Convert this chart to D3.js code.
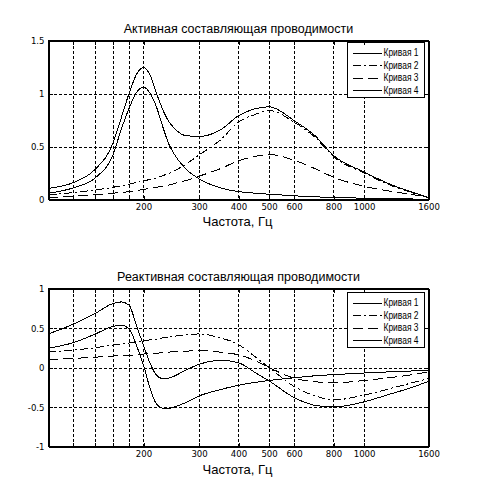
<!DOCTYPE html>
<html>
<head>
  <meta charset="utf-8">
  <title>Проводимость</title>
  <script src="https://d3js.org/d3.v7.min.js"></script>
  <style>
    body { margin: 0; background: #fff; }
    svg { display: block; }
    .grid line { stroke: #000; stroke-width: 1px; stroke-dasharray: 3,2; shape-rendering: crispEdges; }
    .frame { fill: none; stroke: #000; stroke-width: 1px; shape-rendering: crispEdges; }
    .axis path, .axis line { stroke: #000; shape-rendering: crispEdges; }
    .axis text { font-family: "Liberation Sans Narrow", "DejaVu Sans Condensed", "Arial Narrow", sans-serif; font-size: 9.5px; fill: #000; }
    .curve { fill: none; stroke: #000; stroke-width: 1px; shape-rendering: crispEdges; }
    .legend rect { fill: #fff; stroke: #000; shape-rendering: crispEdges; }
    .legend text { font-family: "Liberation Sans", Arial, sans-serif; font-size: 10px; }
    .title, .xlabel { font-family: "Liberation Sans", Arial, sans-serif; fill: #000; }
  </style>
</head>
<body>
  <script>
    // Frequencies (Hz), shared by all curves
    const freq = [100, 120, 140, 160, 170, 180, 190, 200, 210, 220, 230, 240, 250, 270, 300, 350, 400, 450, 500, 600, 700, 800, 1000, 1200, 1400, 1600];

    // Active component (upper plot)
    const active1 = [0.06, 0.11, 0.2, 0.42, 0.66, 0.86, 1.01, 1.06, 1.0, 0.87, 0.69, 0.53, 0.43, 0.3, 0.195, 0.11, 0.075, 0.06, 0.05, 0.035, 0.025, 0.02, 0.012, 0.008, 0.005, 0.003];
    const active2 = [0.047, 0.065, 0.09, 0.115, 0.13, 0.145, 0.16, 0.175, 0.19, 0.205, 0.225, 0.245, 0.27, 0.325, 0.42, 0.56, 0.73, 0.8, 0.84, 0.73, 0.585, 0.405, 0.25, 0.14, 0.07, 0.018];
    const active3 = [0.02, 0.03, 0.045, 0.06, 0.065, 0.075, 0.085, 0.095, 0.105, 0.115, 0.125, 0.135, 0.15, 0.175, 0.22, 0.29, 0.365, 0.405, 0.425, 0.37, 0.29, 0.21, 0.125, 0.08, 0.05, 0.02];
    const active4 = [0.105, 0.16, 0.28, 0.53, 0.77, 1.0, 1.18, 1.245, 1.17, 1.0, 0.85, 0.74, 0.675, 0.605, 0.595, 0.655, 0.79, 0.855, 0.875, 0.745, 0.6, 0.415, 0.26, 0.148, 0.075, 0.02];

    // Reactive component (lower plot)
    const reactive1 = [0.245, 0.315, 0.42, 0.52, 0.535, 0.49, 0.28, 0.03, -0.27, -0.465, -0.515, -0.52, -0.5, -0.45, -0.36, -0.28, -0.225, -0.19, -0.165, -0.13, -0.105, -0.09, -0.07, -0.055, -0.045, -0.035];
    const reactive2 = [0.195, 0.22, 0.25, 0.285, 0.3, 0.31, 0.325, 0.34, 0.35, 0.36, 0.375, 0.385, 0.395, 0.41, 0.425, 0.375, 0.29, 0.14, 0.0, -0.24, -0.36, -0.41, -0.35, -0.27, -0.2, -0.14];
    const reactive3 = [0.1, 0.115, 0.13, 0.145, 0.15, 0.155, 0.16, 0.17, 0.175, 0.18, 0.19, 0.195, 0.2, 0.205, 0.215, 0.195, 0.16, 0.09, 0.0, -0.135, -0.18, -0.195, -0.165, -0.13, -0.095, -0.055];
    const reactive4 = [0.425, 0.55, 0.68, 0.81, 0.83, 0.79, 0.53, 0.28, 0.05, -0.1, -0.14, -0.135, -0.11, -0.04, 0.04, 0.09, 0.06, -0.06, -0.17, -0.38, -0.48, -0.5, -0.435, -0.34, -0.26, -0.175];

    const seriesNames = ["Кривая 1", "Кривая 2", "Кривая 3", "Кривая 4"];

    // Tick values and labels
    const xTicks = [120, 140, 160, 180, 200, 300, 400, 500, 600, 800, 1000, 1600];
    const xTickLabels = ["", "", "", "", "200", "300", "400", "500", "600", "800", "1000", "1600"];
    const activeTicks = [0, 0.5, 1, 1.5];
    const activeTickLabels = ["0", "0.5", "1", "1.5"];
    const reactiveTicks = [-1, -0.5, 0, 0.5, 1];
    const reactiveTickLabels = ["-1", "-0.5", "0", "0.5", "1"];

    // Line styles for the four curves
    const dashes = [null, "8,3,2,3", "10,5", null];

    const width = 477, height = 497;
    const left = 48.5, right = 428.5;

    const svg = d3.select("body").append("svg")
        .attr("width", width)
        .attr("height", height);

    const x = d3.scaleLog().domain([100, 1600]).range([left, right]);

    const panels = [
      {
        title: "Активная составляющая проводимости",
        domain: [0, 1.5], top: 40.5, bottom: 199.5,
        ticks: activeTicks, tickLabels: activeTickLabels,
        series: [active1, active2, active3, active4],
        titleY: 32.5, labelY: 226, legendTop: 42.5
      },
      {
        title: "Реактивная составляющая проводимости",
        domain: [-1, 1], top: 288.5, bottom: 446.5,
        ticks: reactiveTicks, tickLabels: reactiveTickLabels,
        series: [reactive1, reactive2, reactive3, reactive4],
        titleY: 280.5, labelY: 474, legendTop: 292.5
      }
    ];

    panels.forEach(drawPanel);

    function drawPanel(p) {
      const y = d3.scaleLinear().domain(p.domain).range([p.bottom, p.top]);
      const g = svg.append("g");

      // Grid
      const grid = g.append("g").attr("class", "grid");
      grid.selectAll(".gx")
        .data(xTicks.filter(d => d < 1600))
        .join("line")
          .attr("x1", d => Math.round(x(d)) + 0.5)
          .attr("x2", d => Math.round(x(d)) + 0.5)
          .attr("y1", p.top)
          .attr("y2", p.bottom);
      grid.selectAll(".gy")
        .data(p.ticks.filter(d => d > p.domain[0] && d < p.domain[1]))
        .join("line")
          .attr("x1", left)
          .attr("x2", right)
          .attr("y1", d => Math.round(y(d)) + 0.5)
          .attr("y2", d => Math.round(y(d)) + 0.5);

      // Curves
      const line = d3.line()
          .x((d, i) => x(freq[i]))
          .y(d => y(d))
          .curve(d3.curveMonotoneX);

      g.selectAll(".curve")
        .data(p.series)
        .join("path")
          .attr("class", "curve")
          .attr("d", line)
          .attr("stroke-dasharray", (d, i) => dashes[i]);

      // Legend
      const lg = g.append("g").attr("class", "legend")
          .attr("transform", `translate(347.5,${p.legendTop})`);
      lg.append("rect").attr("width", 77).attr("height", 55);
      const item = lg.selectAll(".item")
        .data(seriesNames)
        .join("g")
          .attr("transform", (d, i) => `translate(0,${10 + i * 12.6})`);
      item.append("line")
          .attr("x1", 5).attr("x2", 34)
          .attr("y1", 0.5).attr("y2", 0.5)
          .attr("stroke", "#000")
          .attr("shape-rendering", "crispEdges")
          .attr("stroke-dasharray", (d, i) => dashes[i]);
      item.append("text")
          .attr("x", 36)
          .attr("y", 0)
          .attr("dy", "0.35em")
          .attr("textLength", 35)
          .attr("lengthAdjust", "spacingAndGlyphs")
          .text(d => d);

      // Axes with inward ticks
      g.append("g").attr("class", "axis")
          .attr("transform", `translate(0,${p.bottom})`)
          .call(d3.axisBottom(x).tickValues(xTicks)
            .tickFormat((d, i) => xTickLabels[i])
            .tickSizeInner(-4).tickSizeOuter(0).tickPadding(4));
      g.append("g").attr("class", "axis")
          .attr("transform", `translate(0,${p.top})`)
          .call(d3.axisTop(x).tickValues(xTicks).tickFormat("")
            .tickSizeInner(-4).tickSizeOuter(0));
      g.append("g").attr("class", "axis")
          .attr("transform", `translate(${left},0)`)
          .call(d3.axisLeft(y).tickValues(p.ticks)
            .tickFormat((d, i) => p.tickLabels[i])
            .tickSizeInner(-4).tickSizeOuter(0).tickPadding(4));
      g.append("g").attr("class", "axis")
          .attr("transform", `translate(${right},0)`)
          .call(d3.axisRight(y).tickValues(p.ticks).tickFormat("")
            .tickSizeInner(-4).tickSizeOuter(0));

      g.append("rect").attr("class", "frame")
          .attr("x", left).attr("y", p.top)
          .attr("width", right - left).attr("height", p.bottom - p.top);

      // Title and x label
      g.append("text").attr("class", "title")
          .attr("x", (left + right) / 2)
          .attr("y", p.titleY)
          .attr("text-anchor", "middle")
          .attr("font-size", "12.5px")
          .text(p.title);
      g.append("text").attr("class", "xlabel")
          .attr("x", 237.5)
          .attr("y", p.labelY)
          .attr("text-anchor", "middle")
          .attr("font-size", "13px")
          .text("Частота, Гц");
    }
  </script>
</body>
</html>
